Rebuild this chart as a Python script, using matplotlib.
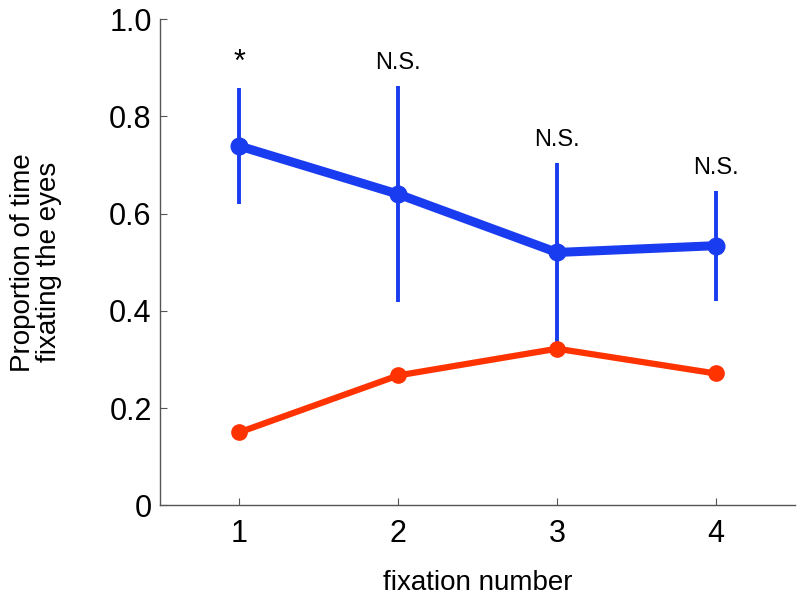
import matplotlib
matplotlib.use("Agg")
import matplotlib.pyplot as plt

plt.rcParams['font.family'] = ['Liberation Sans', 'DejaVu Sans']

fixation = [1, 2, 3, 4]
eyes_blue = [0.739, 0.640, 0.520, 0.534]
eyes_blue_err = [0.120, 0.222, 0.185, 0.113]
eyes_red = [0.150, 0.267, 0.322, 0.271]
sig_labels = ['*', 'N.S.', 'N.S.', 'N.S.']

blue = '#1a3cf0'
red = '#ff3300'

fig = plt.figure(figsize=(8, 6), dpi=100)
ax = fig.add_axes([0.2, 0.158, 0.794, 0.81])

# blue group with error bars
ax.errorbar(fixation, eyes_blue, yerr=eyes_blue_err, color=blue, lw=6.5,
            elinewidth=2.8, capsize=0, marker='o', ms=12, zorder=2)
# red group on top
ax.plot(fixation, eyes_red, color=red, lw=4.5, marker='o', ms=11, zorder=3)

# significance labels above each error bar
for x, y, e, s in zip(fixation, eyes_blue, eyes_blue_err, sig_labels):
    size = 22 if s == '*' else 17
    ax.text(x, y + e + 0.035, s, ha='center', va='baseline', fontsize=size)

ax.set_xlim(0.5, 4.5)
ax.set_ylim(0, 1.0)
ax.set_xticks(fixation)
ax.set_yticks([0, 0.2, 0.4, 0.6, 0.8, 1.0])
ax.set_yticklabels(['0', '0.2', '0.4', '0.6', '0.8', '1.0'])

for side in ['top', 'right']:
    ax.spines[side].set_visible(False)
for side in ['left', 'bottom']:
    ax.spines[side].set_color('#555555')
    ax.spines[side].set_linewidth(1.0)

ax.tick_params(direction='in', length=5, width=0.8, color='#555555',
               labelsize=22)
ax.tick_params(axis='x', pad=10)
ax.tick_params(axis='y', pad=6)

ax.set_xlabel('fixation number', fontsize=20, labelpad=15)
ax.set_ylabel('Proportion of time\nfixating the eyes', fontsize=20,
              linespacing=1.0, labelpad=34)

fig.savefig('out.png', dpi=100)
